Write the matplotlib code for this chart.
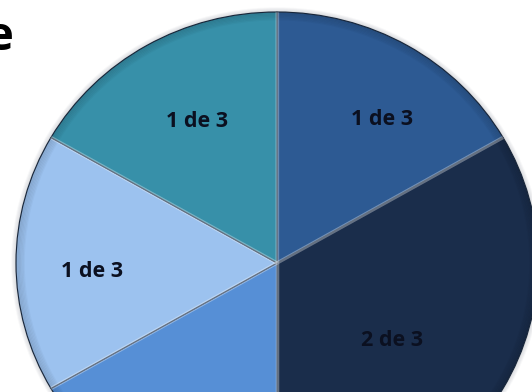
import matplotlib.pyplot as plt
from matplotlib.patches import Circle
import numpy as np

plt.rcParams["font.family"] = ["Open Sans", "DejaVu Sans"]

# slices clockwise from 12 o'clock
parts = [1, 2, 1, 1, 1]
labels = ["1 de 3", "2 de 3", "1 de 3", "1 de 3", "1 de 3"]
colors = ["#2d5a93", "#1a2d4b", "#568fd6", "#9cc2ef", "#3790a9"]
title = "e"

# label placement: radial fraction and small angular nudge (degrees)
label_r = [0.70, 0.54, 0.95, 0.71, 0.64]
label_nudge = [-5.0, -5.0, 0.0, 2.6, -1.4]

W, H = 532, 392
R = 261                 # horizontal radius in pixels
sy = 251 / R            # pie is drawn slightly squashed vertically
cx, cy = 277, (H - 263) / sy

fig = plt.figure(figsize=(W / 100, H / 100), dpi=100)
ax = fig.add_axes([0, 0, 1, 1])

# faint shadow just outside the rim
for i in range(4):
    ax.add_patch(Circle((cx, cy), R + 1 + i, fill=False, lw=1.2,
                        color="#606878", alpha=0.12 - i * 0.025))

wedges, _ = ax.pie(parts, colors=colors, startangle=90, counterclock=False,
                   center=(cx, cy), radius=R,
                   wedgeprops=dict(edgecolor="#1b2b42", linewidth=0.8))

# soft bevel: light streak along each radial edge
for w in wedges:
    for th in (w.theta1, w.theta2):
        t = np.radians(th)
        ax.plot([cx, cx + R * np.cos(t)], [cy, cy + R * np.sin(t)],
                color="white", alpha=0.18, lw=2.5, solid_capstyle="butt")

# darker shading toward the outer edge
for i in range(7):
    ax.add_patch(Circle((cx, cy), R - i * 1.3, fill=False, lw=1.4,
                        color="black", alpha=0.10 - i * 0.012))

for w, lab, fr, nd in zip(wedges, labels, label_r, label_nudge):
    t = np.radians((w.theta1 + w.theta2) / 2 + nd)
    ax.text(cx + fr * R * np.cos(t), cy + fr * R * np.sin(t), lab,
            ha="center", va="center", fontsize=15.5, fontweight="bold",
            color="#0b1020")

ax.text(14, (H - 50) / sy, title, ha="right", va="baseline", fontsize=34,
        fontweight="bold", color="black")

ax.set_xlim(0, W)
ax.set_ylim(0, H / sy)
ax.set_aspect("auto")
ax.axis("off")

fig.savefig("out.png", dpi=100)
